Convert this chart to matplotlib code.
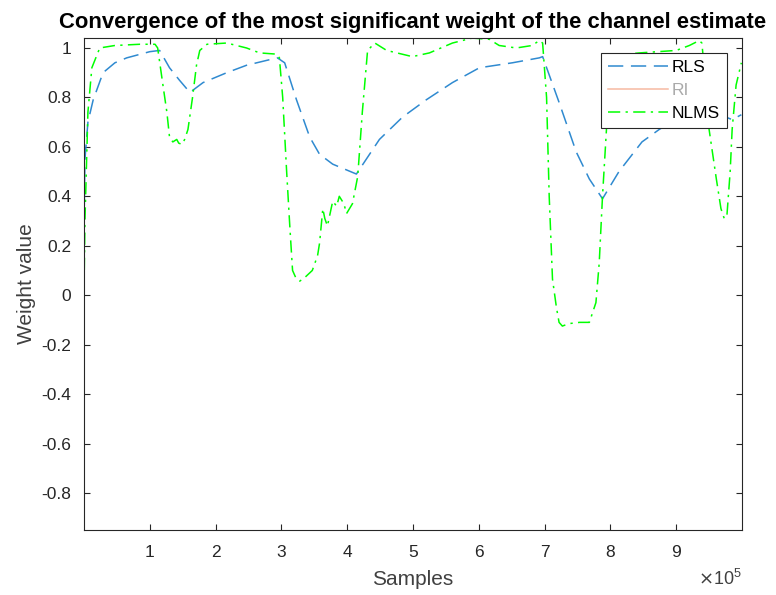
import numpy as np
import matplotlib
matplotlib.use("Agg")
import matplotlib.pyplot as plt
from matplotlib.ticker import FixedLocator

plt.rcParams['font.family'] = ['Liberation Sans', 'DejaVu Sans']

SCALE = 1e5  # samples per x unit

# RLS weight trajectory (x in units of 1e5 samples)
rls_x = [0.0, 0.015, 0.06, 0.14, 0.29, 0.47, 0.65, 1.00, 1.15, 1.30, 1.45, 1.61,
         1.81, 2.17, 2.47, 2.78, 2.94, 3.05, 3.23, 3.43, 3.58, 3.78, 3.96, 4.14,
         4.49, 4.84, 5.20, 5.60, 6.01, 6.51, 6.92, 6.97, 7.22, 7.48, 7.68, 7.88,
         8.13, 8.48, 8.74, 9.04, 9.35, 9.58, 9.76, 9.85, 9.99]
rls_y = [0.27, 0.55, 0.70, 0.79, 0.90, 0.94, 0.96, 0.985, 0.99, 0.92, 0.87, 0.82,
         0.86, 0.90, 0.93, 0.95, 0.96, 0.94, 0.79, 0.64, 0.57, 0.53, 0.51, 0.49,
         0.63, 0.72, 0.79, 0.86, 0.92, 0.94, 0.96, 0.965, 0.78, 0.58, 0.47, 0.39,
         0.50, 0.62, 0.67, 0.72, 0.75, 0.74, 0.72, 0.71, 0.73]

# NLMS weight trajectory
nlms_x = [0.0, 0.015, 0.06, 0.12, 0.24, 0.47, 0.85, 1.08, 1.12, 1.20, 1.26, 1.30,
          1.35, 1.41, 1.44, 1.49, 1.53, 1.58, 1.65, 1.71, 1.76, 1.87, 2.17, 2.47,
          2.67, 2.93, 2.97, 3.02, 3.08, 3.13, 3.17, 3.22, 3.28, 3.35, 3.47, 3.55,
          3.58, 3.63, 3.66, 3.70, 3.78, 3.84, 3.88, 3.95, 3.99, 4.08, 4.16, 4.23,
          4.31, 4.42, 4.60, 4.99, 5.25, 5.60, 5.90, 6.16, 6.31, 6.57, 6.81, 6.92,
          6.97, 7.03, 7.07, 7.12, 7.18, 7.22, 7.27, 7.37, 7.53, 7.68, 7.78, 7.83,
          7.88, 7.94, 7.98, 8.04, 8.44, 9.00, 9.20, 9.35, 9.39, 9.45, 9.50, 9.61,
          9.68, 9.73, 9.77, 9.82, 9.85, 9.91, 9.99]
nlms_y = [0.0, 0.30, 0.74, 0.92, 1.00, 1.01, 1.015, 1.015, 1.00, 0.85, 0.74, 0.64,
          0.62, 0.63, 0.615, 0.61, 0.63, 0.67, 0.80, 0.93, 0.99, 1.015, 1.02, 1.00,
          0.98, 0.975, 0.96, 0.80, 0.50, 0.27, 0.10, 0.07, 0.057, 0.07, 0.10, 0.16,
          0.21, 0.35, 0.31, 0.28, 0.38, 0.36, 0.40, 0.37, 0.33, 0.37, 0.48, 0.74,
          0.99, 1.02, 0.99, 0.965, 0.98, 1.02, 1.04, 1.035, 1.01, 1.00, 1.01, 1.03,
          1.02, 0.80, 0.40, 0.065, -0.05, -0.11, -0.125, -0.115, -0.11, -0.11, -0.03, 0.13,
          0.40, 0.67, 0.90, 0.97, 0.98, 0.99, 1.01, 1.03, 1.02, 0.85, 0.67, 0.47,
          0.35, 0.31, 0.32, 0.50, 0.67, 0.85, 0.94]

# RI trajectory is not shown in the plot area
ri_x = []
ri_y = []

x_ticks = [1, 2, 3, 4, 5, 6, 7, 8, 9]
y_ticks = [-0.8, -0.6, -0.4, -0.2, 0, 0.2, 0.4, 0.6, 0.8, 1]

fig = plt.figure(figsize=(7.76, 5.95), dpi=100)
ax = fig.add_axes([0.1082, 0.1092, 0.848, 0.8268])

ax.plot(np.array(rls_x) * SCALE, rls_y, color='#2f8ad0', lw=1.1,
        linestyle=(0, (10, 5)), label='RLS')
ax.plot(np.array(ri_x) * SCALE, ri_y, color='#f6b9a2', lw=1.1, label='RI')
ax.plot(np.array(nlms_x) * SCALE, nlms_y, color='#00ff00', lw=1.1,
        linestyle=(0, (8, 3.5, 1.5, 3.5)), label='NLMS')

ax.set_xlim(0, 1e6)
ax.set_ylim(-0.95, 1.04)
ax.xaxis.set_major_locator(FixedLocator(np.array(x_ticks) * SCALE))
ax.set_xticklabels([str(t) for t in x_ticks])
ax.set_yticks(y_ticks)
ax.set_yticklabels(['-0.8', '-0.6', '-0.4', '-0.2', '0', '0.2', '0.4', '0.6', '0.8', '1'])

axcol = '#262626'
ax.tick_params(direction='in', top=True, right=True, length=4, width=0.8,
               colors=axcol, labelsize=12.5)
ax.tick_params(axis='x', pad=11)
ax.tick_params(axis='y', pad=9)
for s in ax.spines.values():
    s.set_color(axcol)
    s.set_linewidth(0.8)

ax.text(1.0, -0.1, r'$\times\mathregular{10^{5}}$', transform=ax.transAxes, ha='right',
        va='center', fontsize=13, color='#404040')

ax.set_xlabel('Samples', fontsize=15, color='#404040', labelpad=7)
ax.set_ylabel('Weight value', fontsize=15, color='#404040', labelpad=4)
ax.set_title('Convergence of the most significant weight of the channel estimate',
             fontsize=15.8, fontweight='bold', color='black', pad=7)

leg = ax.legend(loc='upper right', bbox_to_anchor=(0.977, 0.9695), fontsize=12.5,
                handlelength=3.45, handletextpad=0.2, borderpad=0.4,
                labelspacing=0.45, borderaxespad=0, fancybox=False, framealpha=1,
                edgecolor=axcol)
leg.get_frame().set_linewidth(0.8)
for txt, c in zip(leg.get_texts(), ['black', '#aaaaaa', 'black']):
    txt.set_color(c)

fig.savefig('out.png', dpi=100)
